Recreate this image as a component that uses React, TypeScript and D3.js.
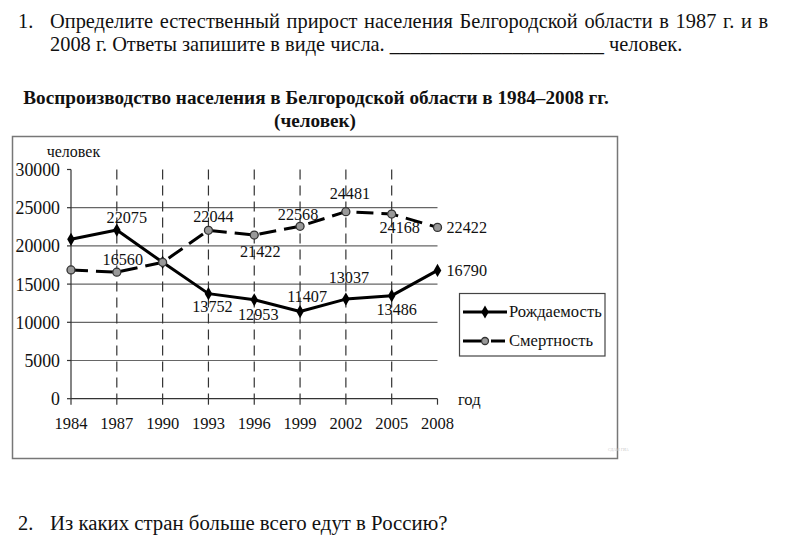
import React from "react";
import * as d3 from "d3";

const years = [1984, 1987, 1990, 1993, 1996, 1999, 2002, 2005, 2008];
const births = [20860, 22075, 17850, 13752, 12953, 11407, 13037, 13486, 16790];
const deaths = [16850, 16560, 17850, 22044, 21422, 22568, 24481, 24168, 22422];
const birthsLabeled = [false, true, false, true, true, true, true, true, true];
const deathsLabeled = [false, true, false, true, true, true, true, true, true];
const yTicks = [0, 5000, 10000, 15000, 20000, 25000, 30000];
const gridValues = [5000, 10000, 15000, 20000, 25000];

// label layout offsets (dx, dy, anchor) relative to the point
const birthsLabelPos: [number, number, string][] = [
  [0, 0, "middle"], [10, -7, "middle"], [0, 0, "middle"], [4, 18, "middle"], [4, 20, "middle"],
  [7, -10, "middle"], [3, -16, "middle"], [5, 19, "middle"], [9, 6, "start"],
];
const deathsLabelPos: [number, number, string][] = [
  [0, 0, "middle"], [6, -7, "middle"], [0, 0, "middle"], [5, -8, "middle"], [6, 22, "middle"],
  [-2, -6, "middle"], [4, -13, "middle"], [8, 19, "middle"], [9, 6, "start"],
];

const FONT = "'Liberation Serif', 'Times New Roman', serif";

export default function App() {
  const x = d3.scaleLinear().domain([1984, 2008]).range([71, 437.5]);
  const y = d3.scaleLinear().domain([0, 30000]).range([398.7, 169.5]);
  const line = d3
    .line<number>()
    .x((_, i) => x(years[i]))
    .y((d) => y(d));
  const diamond = d3.symbol().type(d3.symbolDiamond).size(50)();

  return (
    <svg
      width={794}
      height={548}
      style={{ position: "absolute", left: 0, top: 0, background: "#fff" }}
      fontFamily={FONT}
    >
      <rect x={0} y={0} width={794} height={548} fill="#fff" />
      {/* question text */}
      <g fontSize={20.4} fill="#111">
        <text x={18} y={28}>1.</text>
        <text x={50} y={28} wordSpacing={1.6}>Определите естественный прирост населения Белгородской области в 1987 г. и в</text>
        <text x={50} y={51}>2008 г. Ответы запишите в виде числа. _____________________ человек.</text>
        <text x={18} y={530}>2.</text>
        <text x={50} y={530} fontSize={20.8}>Из каких стран больше всего едут в Россию?</text>
      </g>
      {/* title */}
      <g fontSize={19.2} fontWeight="bold" fill="#111" textAnchor="middle">
        <text x={316} y={104}>Воспроизводство населения в Белгородской области в 1984–2008 гг.</text>
        <text x={315} y={127}>(человек)</text>
      </g>
      {/* frame */}
      <rect x={12.5} y={136.5} width={605} height={322} fill="none" stroke="#777" strokeWidth={1.5} />
      {/* grid */}
      {gridValues.map((v) => (
        <line key={v} x1={x(1984)} x2={x(2008)} y1={y(v)} y2={y(v)} stroke="#666" strokeWidth={1.2} />
      ))}
      {years.slice(1, -1).map((yr) => (
        <line
          key={yr}
          x1={x(yr)}
          x2={x(yr)}
          y1={y(30000)}
          y2={y(0)}
          stroke="#333"
          strokeWidth={1.2}
          strokeDasharray="10,6"
        />
      ))}
      {/* axes */}
      <line x1={x(1984)} x2={x(1984)} y1={y(30000)} y2={y(0)} stroke="#333" strokeWidth={1.2} />
      <line x1={x(1984)} x2={x(2008)} y1={y(0)} y2={y(0)} stroke="#333" strokeWidth={1.2} />
      {yTicks.map((v) => (
        <g key={v}>
          <line x1={x(1984) - 4} x2={x(1984)} y1={y(v)} y2={y(v)} stroke="#333" strokeWidth={1.2} />
          <text x={60} y={y(v) + 6.5} fontSize={17.8} textAnchor="end" fill="#111">
            {v}
          </text>
        </g>
      ))}
      {years.map((yr) => (
        <g key={yr}>
          <line x1={x(yr)} x2={x(yr)} y1={y(0)} y2={y(0) + 6} stroke="#333" strokeWidth={1.2} />
          <text x={x(yr)} y={429} fontSize={16.5} textAnchor="middle" fill="#111">
            {yr}
          </text>
        </g>
      ))}
      <text x={46.7} y={156.7} fontSize={16} fill="#111">человек</text>
      <text x={458} y={405} fontSize={16.5} fill="#111">год</text>

      {/* series */}
      <path d={line(births) || ""} fill="none" stroke="#000" strokeWidth={3} strokeLinejoin="round" />
      <path
        d={line(deaths) || ""}
        fill="none"
        stroke="#000"
        strokeWidth={3}
        strokeDasharray="17,8"
      />
      {births.map((v, i) => (
        <path key={"b" + i} d={diamond} transform={`translate(${x(years[i])},${y(v)})`} fill="#000" />
      ))}
      {deaths.map((v, i) => (
        <circle key={"d" + i} cx={x(years[i])} cy={y(v)} r={4} fill="#999" stroke="#333" strokeWidth={1.3} />
      ))}
      {/* data labels */}
      <g fontSize={16.2} fill="#111">
        {births.map((v, i) =>
          birthsLabeled[i] ? (
            <text
              key={"bl" + i}
              x={x(years[i]) + birthsLabelPos[i][0]}
              y={y(v) + birthsLabelPos[i][1]}
              textAnchor={birthsLabelPos[i][2]}
            >
              {v}
            </text>
          ) : null
        )}
        {deaths.map((v, i) =>
          deathsLabeled[i] ? (
            <text
              key={"dl" + i}
              x={x(years[i]) + deathsLabelPos[i][0]}
              y={y(v) + deathsLabelPos[i][1]}
              textAnchor={deathsLabelPos[i][2]}
            >
              {v}
            </text>
          ) : null
        )}
      </g>

      {/* legend */}
      <rect x={459.5} y={293.5} width={145.5} height={62.5} fill="#fff" stroke="#444" strokeWidth={1.2} />
      <line x1={463} x2={507} y1={312} y2={312} stroke="#000" strokeWidth={3} />
      <path d={diamond} transform="translate(485,312)" fill="#000" />
      <text x={509} y={317} fontSize={16.6} fill="#111">Рождаемость</text>
      <line x1={463} x2={481} y1={341} y2={341} stroke="#000" strokeWidth={3} />
      <line x1={491} x2={505} y1={341} y2={341} stroke="#000" strokeWidth={3} />
      <circle cx={485} cy={341} r={3.5} fill="#999" stroke="#333" strokeWidth={1.3} />
      <text x={509} y={346} fontSize={16.6} fill="#111">Смертность</text>
      <text x={608} y={451} fontSize={4} fill="#ccc">СДАМ ГИА</text>
    </svg>
  );
}
